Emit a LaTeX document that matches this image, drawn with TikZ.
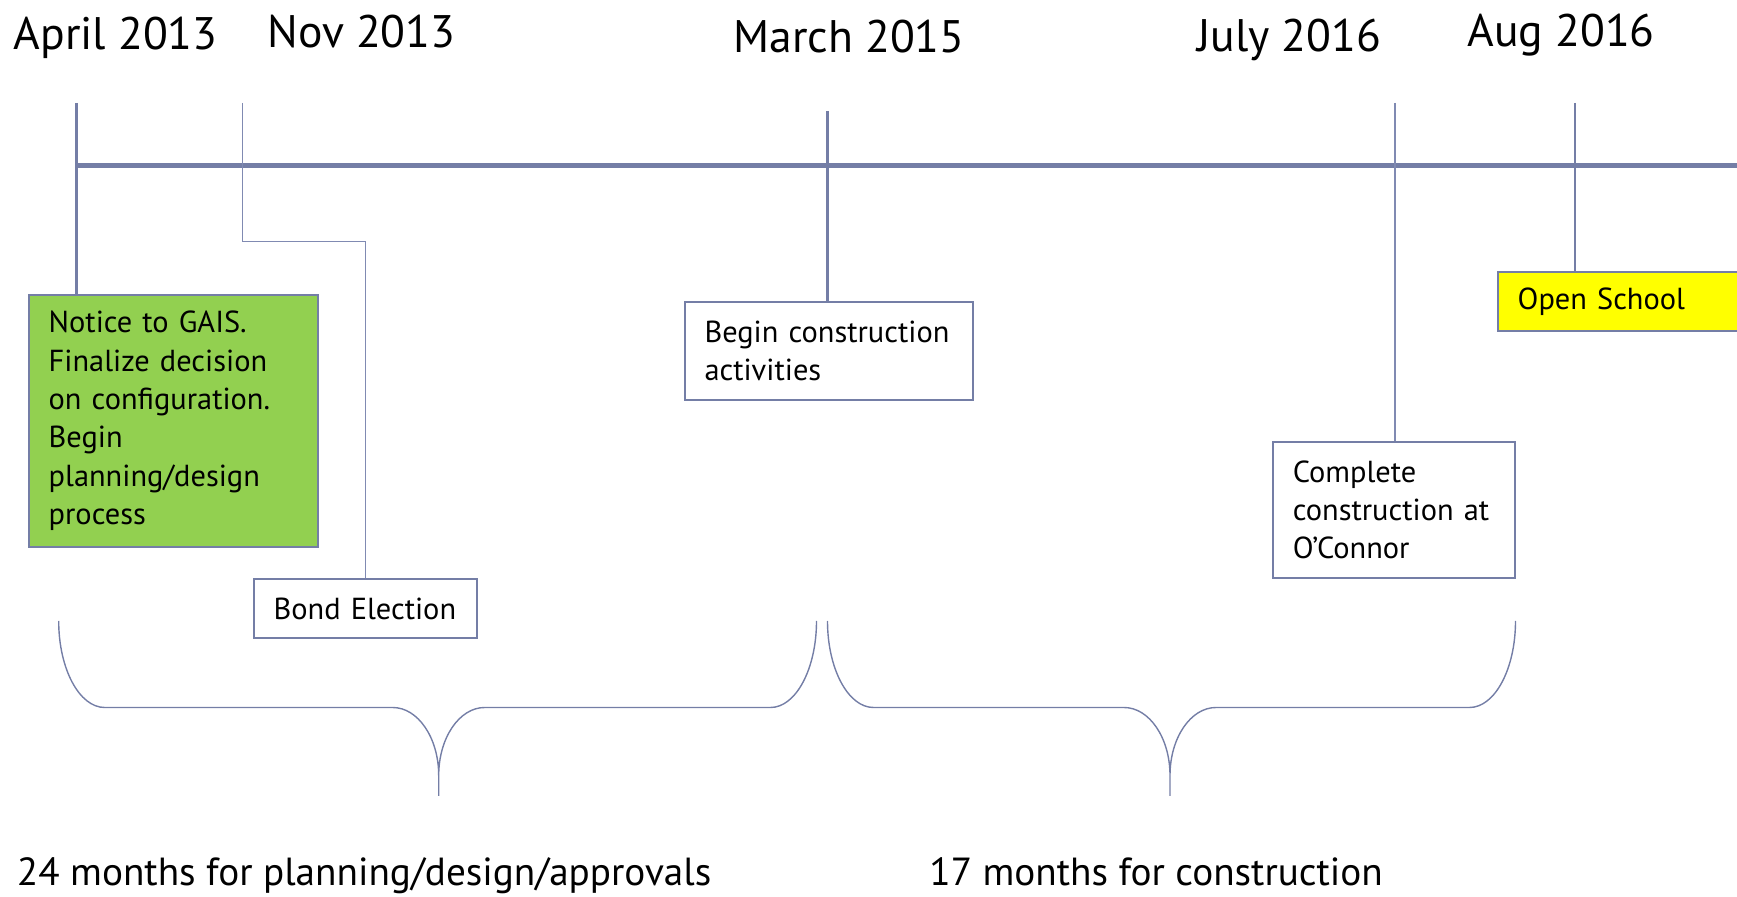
\documentclass[tikz,border=0pt]{standalone}
\usepackage{fontspec}
\setmainfont{PT Sans}
\definecolor{tl}{RGB}{116,126,166}
\definecolor{tlthin}{RGB}{128,138,178}
\definecolor{grn}{RGB}{146,208,80}
\definecolor{yel}{RGB}{255,255,0}
\newcommand{\tlbrace}[3]{%
  \draw[brace] (#1,621) .. controls (#1,668.8) and ({#1+20.6},707.5) .. ({#1+46},707.5)
    -- ({#2-46},707.5) .. controls ({#2-20.6},707.5) and (#2,738) .. (#2,775.5) -- (#2,796)
    -- (#2,775.5) .. controls (#2,738) and ({#2+20.6},707.5) .. ({#2+46},707.5)
    -- ({#3-46},707.5) .. controls ({#3-20.6},707.5) and (#3,668.8) .. (#3,621);}
\begin{document}
\begin{tikzpicture}[x=0.5pt,y=-0.5pt,
  tick/.style={draw=tl,line width=1.2pt},
  thintick/.style={draw=tlthin,line width=0.85pt},
  evbox/.style={draw=tl,line width=1pt,anchor=north west,align=left,inner xsep=10pt,inner ysep=0pt,font=\fontsize{15.2}{19.15}\selectfont},
  datelbl/.style={anchor=base west,inner sep=0pt,font=\fontsize{22.8}{27}\selectfont},
  spanlbl/.style={anchor=base west,inner sep=0pt,font=\fontsize{19.6}{24}\selectfont},
  brace/.style={draw=tl,line width=0.7pt}]
\useasboundingbox (0,0) rectangle (1737,897);

% date labels
\node[datelbl] (dA) at (13.3,50) {April 2013};
\node[datelbl] (dN) at (267,47.6) {Nov 2013};
\node[datelbl] (dM) at (733,53) {March 2015};
\node[datelbl] (dJ) at (1197,52) {July 2016};
\node[datelbl] (dG) at (1467,46.5) {Aug 2016};

% event boxes
\node[evbox,fill=grn,minimum width=144.5pt,text width=124.5pt,minimum height=126.2pt] (gais) at (27.7,293.6)
  {Notice to GAIS.\\Finalize decision\\on configuration.\\Begin\\planning/design\\process};
\node[evbox,fill=white,minimum width=111.9pt,text width=91.9pt,minimum height=29.35pt] (bond) at (252.6,578.3)
  {Bond Election};
\node[evbox,fill=white,minimum width=144pt,text width=124pt,minimum height=48.75pt] (begin) at (683.5,301.3)
  {Begin construction\\activities};
\node[evbox,fill=white,minimum width=121.3pt,text width=101.3pt,minimum height=68pt] (comp) at (1271.8,441)
  {Complete\\construction at\\O’Connor};
\node[evbox,fill=yel,minimum width=135pt,text width=115pt,minimum height=29.35pt] (open) at (1496.7,271.4)
  {Open School};

% main timeline
\coordinate (ms) at (76.4,166);
\coordinate (me) at (1745,166);
\draw[tl,line width=2.5pt] (ms) -- (me);

% ticks
\coordinate (ta) at (76.4,103);
\draw[tick] (ta) -- (ta |- gais.north);
\coordinate (tn) at (242.6,103);
\coordinate (nb) at (242.6,241.5);
\draw[thintick] (tn) -- (nb) -| (bond.north);
\coordinate (tm) at (827.5,111);
\draw[tick] (tm) -- (tm |- begin.north);
\coordinate (tj) at (1394.7,103);
\draw[thintick] (tj) -- (tj |- comp.north);
\coordinate (tg) at (1575,103);
\draw[tick] (tg) -- (tg |- open.north);

% braces
\tlbrace{58.7}{438.7}{816.5}
\tlbrace{827.5}{1170}{1515.5}

% span labels
\node[spanlbl] (s1) at (16.6,886) {24 months for planning/design/approvals};
\node[spanlbl] (s2) at (929,886) {17 months for construction};
\end{tikzpicture}
\end{document}
